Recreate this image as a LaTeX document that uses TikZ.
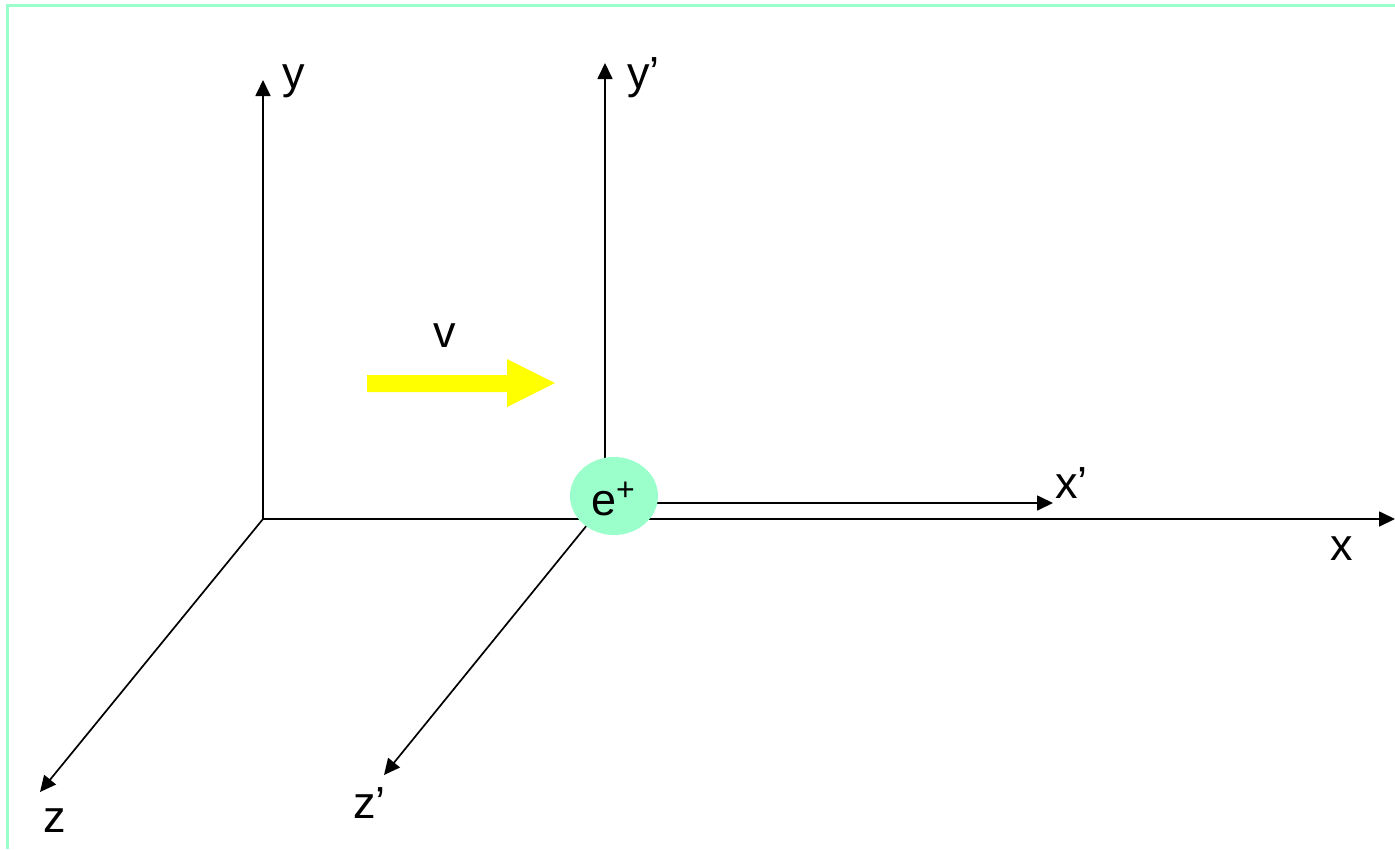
\documentclass[tikz,border=0pt]{standalone}
\usepackage{fontspec}
\setmainfont{Liberation Sans}
\usetikzlibrary{arrows.meta,shapes.geometric}
\definecolor{mint}{RGB}{155,255,204}
\definecolor{vyellow}{RGB}{255,255,0}
\tikzset{
  axis/.style={line width=1.7pt, -{Triangle[length=16pt,width=15pt]}},
  lbl/.style={inner sep=0pt, anchor=base west, font=\fontsize{45}{54}\selectfont},
}
\begin{document}
\begin{tikzpicture}[x=1pt,y=-1pt]
\useasboundingbox (0,0) rectangle (1395,849);
% frame
\draw[mint, line width=3pt] (7,849) -- (7,5) -- (1395,5);
% coordinates
\coordinate (O) at (263,519);
\coordinate (xtip) at (1395,519);
\coordinate (ytip) at (263,80);
\coordinate (ztip) at (40,792);
\coordinate (Op) at (605,503);
\coordinate (xptip) at (1053,503);
\coordinate (yptip) at (605,63);
\coordinate (zptip) at (384,775);
% axes
\draw[axis] (O) -- (xtip);
\draw[axis] (O) -- (ytip);
\draw[axis] (O) -- (ztip);
\draw[axis] (Op) -- (xptip);
\draw[axis] (Op) -- (yptip);
\draw[axis] (Op) -- (zptip);
% positron
\node[ellipse, fill=mint, minimum width=88pt, minimum height=78pt, inner sep=0pt] (ep) at (614,496) {};
\node[lbl] (eplbl) at (591,515) {e\raisebox{15pt}{\fontsize{32}{36}\selectfont +}};
% velocity arrow
\fill[vyellow] (367,375) -- (507,375) -- (507,359) -- (555,383) -- (507,407) -- (507,392) -- (367,392) -- cycle;
% labels
\node[lbl] (ly) at (282,88) {y};
\node[lbl] (lyp) at (627,88) {y’};
\node[lbl] (lxp) at (1055,498) {x’};
\node[lbl] (lx) at (1330,560) {x};
\node[lbl] (lz) at (43,832) {z};
\node[lbl] (lzp) at (353,818) {z’};
\node[lbl] (lv) at (433,347) {v};
\end{tikzpicture}
\end{document}
